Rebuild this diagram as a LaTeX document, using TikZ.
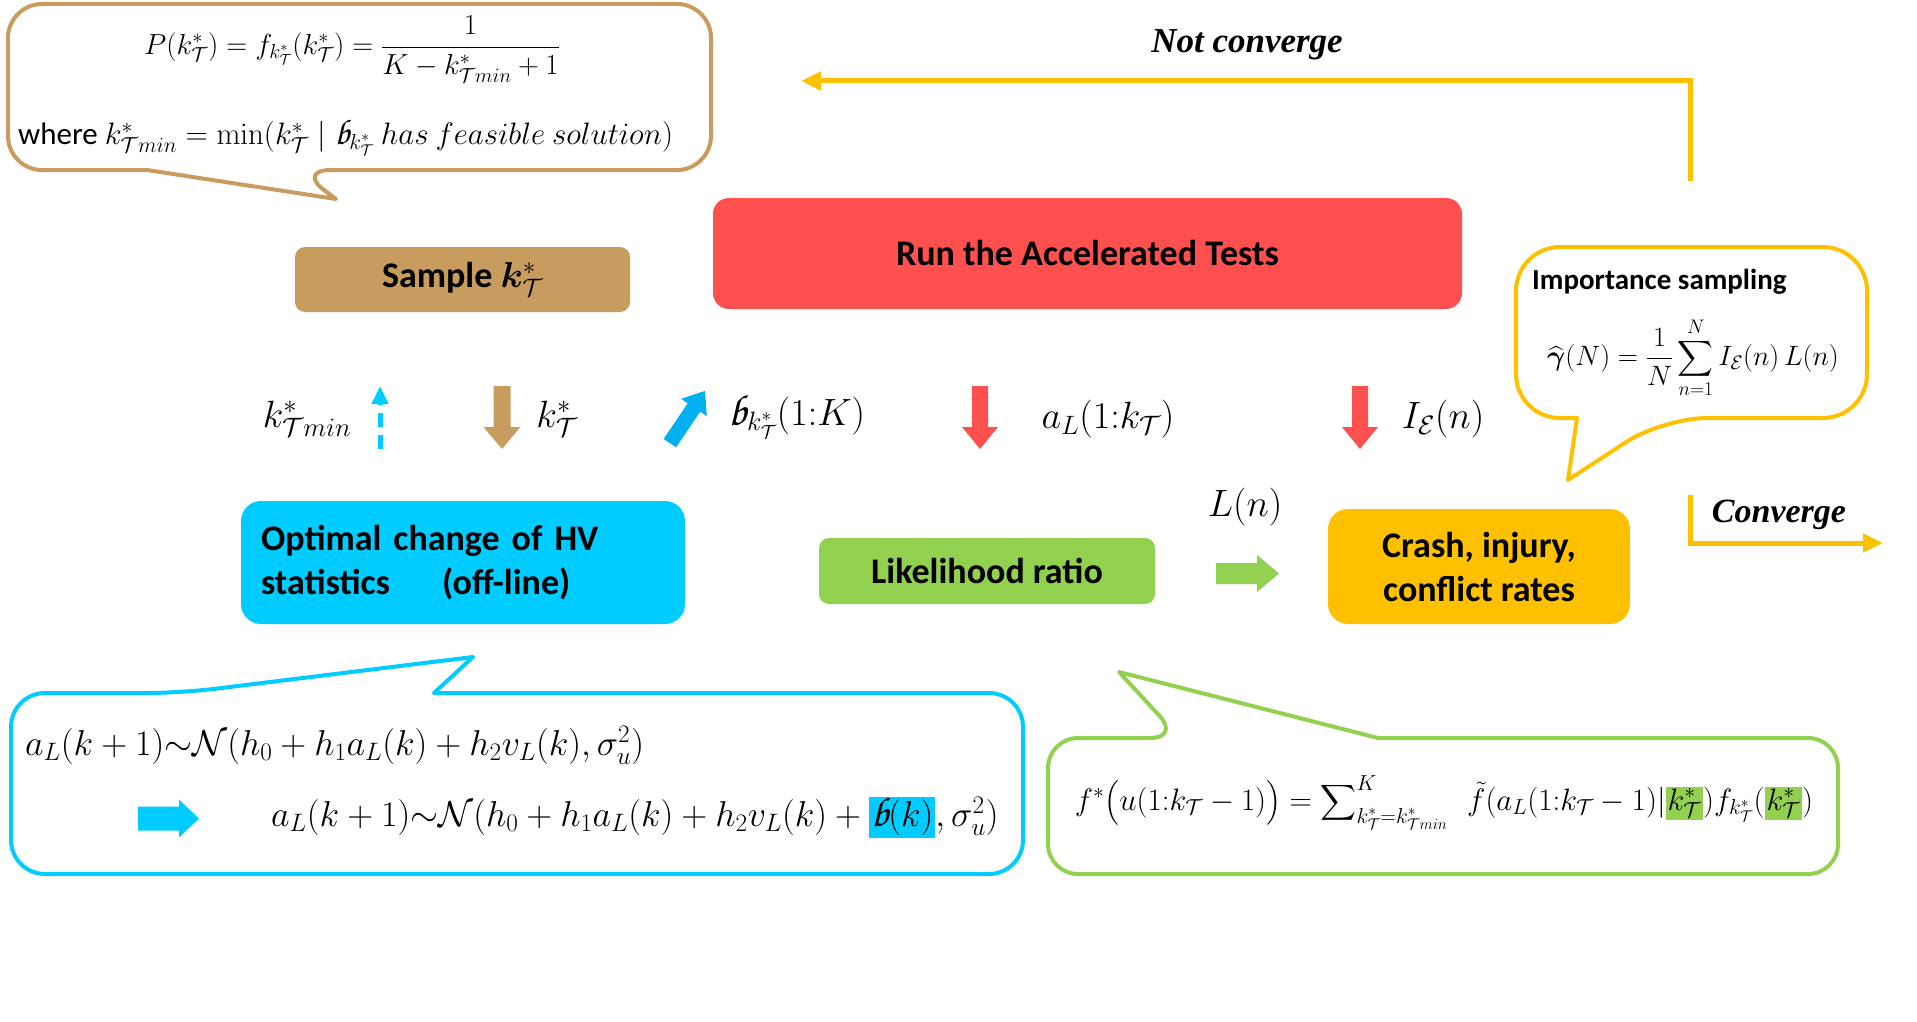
\RequirePackage{fix-cm}
\documentclass[tikz,border=0pt]{standalone}
\usepackage{amsmath,bm}
\usepackage[no-math]{fontspec}
\setmainfont{Carlito}
\newfontfamily\tnr{Liberation Serif}
\suppressfontnotfounderror=1
\font\chorustest="TeX Gyre Chorus" at 10pt
\ifx\chorustest\nullfont
  \newcommand{\scb}{\mathit{b}}
\else
  \newfontfamily\chorus[Scale=1.15]{TeX Gyre Chorus}
  \newcommand{\scb}{\mathord{\text{\chorus b}}}
\fi
\suppressfontnotfounderror=0
\usetikzlibrary{arrows.meta}
\definecolor{cTan}{HTML}{C89B5F}
\definecolor{cRed}{HTML}{FF5050}
\definecolor{cCyan}{HTML}{00CCFF}
\definecolor{cBlue}{HTML}{00B0F0}
\definecolor{cGreen}{HTML}{92D050}
\definecolor{cYellow}{HTML}{FFC000}
\newcommand{\kT}{k^{*}_{\mathcal{T}}}
\newcommand{\kTmin}{k^{*}_{\mathcal{T}min}}
% center; angle; length; shaft; head width; head length; colour
\newcommand{\blockarrow}[7]{%
  \begin{scope}[shift={(#1)}, rotate=#2]
    \fill[#7] (-#3/2,-#4/2) -- (#3/2-#6,-#4/2) -- (#3/2-#6,-#5/2) -- (#3/2,0)
      -- (#3/2-#6,#5/2) -- (#3/2-#6,#4/2) -- (-#3/2,#4/2) -- cycle;
  \end{scope}}
\setlength{\fboxsep}{2pt}
\begin{document}
\begin{tikzpicture}[x=1pt,y=-1pt,
  boxtext/.style={font=\fontsize{36}{44}\selectfont\bfseries, align=center, inner sep=0},
  mathlbl/.style={font=\fontsize{38}{44}\selectfont, inner sep=0},
  callout/.style={line width=4, fill=white, rounded corners=34, line join=round},
  yline/.style={draw=cYellow, line width=5, -{Triangle[length=20,width=18]}}
]
\useasboundingbox (0,0) rectangle (1917,1022);

% ---------- top-left callout ----------
\draw[callout, draw=cTan] (8,4) -- (711,4) -- (711,170) -- (297,170) [sharp corners] -- (336,199) -- (147,170) [rounded corners=34] -- (8,170) -- cycle;
\node[font=\fontsize{29}{35}\selectfont, inner sep=0] (pk) at (352,49)
  {$P(\kT) = f_{\kT}(\kT) = \dfrac{1}{K - \kTmin + 1}$};
\node[font=\fontsize{31}{36}\selectfont, inner sep=0, anchor=west] (wh) at (18,138)
  {where $\kTmin = \min(\kT \mid \scb_{\kT}\ has\ feasible\ solution)$};

% ---------- boxes ----------
\node[fill=cTan, rounded corners=10, minimum width=335, minimum height=65, boxtext] (sample) at (462.5,279.5) {Sample $\bm{k}^{*}_{\mathcal{T}}$};
\node[fill=cRed, rounded corners=16, minimum width=749, minimum height=111, boxtext] (run) at (1087.5,253.5) {Run the Accelerated Tests};
\node[fill=cCyan, rounded corners=20, minimum width=444, minimum height=123, boxtext, align=left, text width=404] (opt) at (463,562.5) {Optimal change of HV\\statistics\hspace{52pt}(off-line)};
\node[fill=cGreen, rounded corners=10, minimum width=336, minimum height=66, boxtext] (lr) at (987,571) {Likelihood ratio};
\node[fill=cYellow, rounded corners=20, minimum width=302, minimum height=115, boxtext] (crash) at (1479,566.5) {Crash, injury,\\conflict rates};

% ---------- loop arrows ----------
\coordinate (nc1) at (1690,181);
\coordinate (nc2) at (1690,81);
\coordinate (nc3) at (801,81);
\draw[yline] (nc1) -- (nc2) -- (nc3);
\node[font=\fontsize{35}{40}\selectfont\tnr\bfseries\itshape, inner sep=0] (ncl) at (1247,45) {Not converge};
\coordinate (cv1) at (1690,495);
\coordinate (cv2) at (1690,543);
\coordinate (cv3) at (1883,543);
\draw[yline] (cv1) -- (cv2) -- (cv3);
\node[font=\fontsize{34}{40}\selectfont\tnr\bfseries\itshape, inner sep=0] (cvl) at (1779,515) {Converge};

% ---------- importance sampling callout ----------
\draw[callout, draw=cYellow, rounded corners=44] (1516,247) -- (1867,247) -- (1867,418) -- (1663,418) [sharp corners] -- (1568,480) -- (1577,418) [rounded corners=44] -- (1516,418) -- cycle;
\node[font=\fontsize{29}{34}\selectfont\bfseries, inner sep=0, anchor=west] (ist) at (1532,282) {Importance sampling};
\node[font=\fontsize{28}{34}\selectfont, inner sep=0] (isf) at (1693,358)
  {$\widehat{\bm{\gamma}}(N) = \dfrac{1}{N}\displaystyle\sum_{n=1}^{N} I_{\mathcal{E}}(n)\,L(n)$};

% ---------- middle labels and arrows ----------
\node[mathlbl] (lkmin) at (307,419) {$\kTmin$};
\coordinate (db) at (380,449);
\coordinate (dt) at (380,386);
\draw[draw=cCyan, line width=5, dash pattern=on 14pt off 8pt, -{Triangle[length=18,width=16]}] (db) -- (dt);
\blockarrow{502,417.5}{-90}{63}{17}{37}{22}{cTan}
\node[mathlbl] (lk) at (557,419) {$\kT$};
\blockarrow{687.5,417}{56}{63}{15}{31}{20}{cBlue}
\node[mathlbl] (lb) at (797,417) {$\scb_{\kT}(1{:}K)$};
\blockarrow{980,417.5}{-90}{63}{16}{36}{22}{cRed}
\node[mathlbl] (la) at (1108,419) {$a_L(1{:}k_{\mathcal{T}})$};
\blockarrow{1360,417.5}{-90}{63}{16}{36}{22}{cRed}
\node[mathlbl] (li) at (1443,419) {$I_{\mathcal{E}}(n)$};
\node[mathlbl] (ln) at (1245,507) {$L(n)$};
\blockarrow{1247.5,573.5}{0}{63}{21}{37}{22}{cGreen}

% ---------- bottom-left callout ----------
\draw[callout, draw=cCyan] (11,693) -- (181,693) [sharp corners] -- (473,657) -- (434,693) [rounded corners=34] -- (1023,693) -- (1023,874) -- (11,874) -- cycle;
\node[font=\fontsize{36}{42}\selectfont, inner sep=0, anchor=west] (eq1) at (25,745)
  {$a_L(k+1){\sim}\mathcal{N}(h_0+h_1a_L(k)+h_2v_L(k),\sigma_u^2)$};
\blockarrow{168.5,818.5}{0}{61}{24}{38}{20}{cCyan}
\node[font=\fontsize{36}{42}\selectfont, inner sep=0, anchor=west] (eq2) at (271,817)
  {$a_L(k+1){\sim}\mathcal{N}(h_0+h_1a_L(k)+h_2v_L(k)+\colorbox{cCyan}{$\scb(k)$},\sigma_u^2)$};

% ---------- bottom-right callout ----------
\draw[callout, draw=cGreen, rounded corners=30] (1048,738) -- (1180,738) [sharp corners] -- (1119,672) -- (1378,738) [rounded corners=30] -- (1838,738) -- (1838,874) -- (1048,874) -- cycle;
\node[font=\fontsize{31}{36}\selectfont, inner sep=0] (eq3) at (1444,803)
  {$f^{*}\bigl(u(1{:}k_{\mathcal{T}}-1)\bigr)=\displaystyle\sum\nolimits_{\kT=\kTmin}^{K}\ \ \tilde{f}(a_L(1{:}k_{\mathcal{T}}-1)|\colorbox{cGreen}{$\kT$})f_{\kT}(\colorbox{cGreen}{$\kT$})$};
\end{tikzpicture}
\end{document}
